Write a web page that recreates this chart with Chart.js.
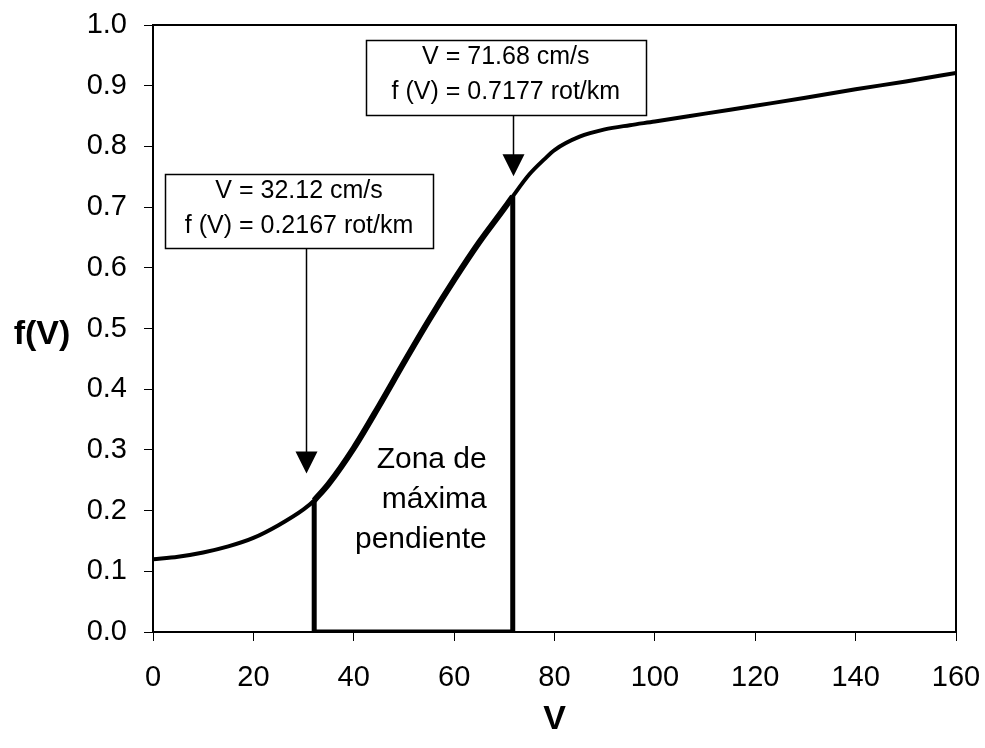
<!DOCTYPE html>
<html>
<head>
<meta charset="utf-8">
<script src="https://cdn.jsdelivr.net/npm/chart.js@4/dist/chart.umd.min.js"></script>
<style>
  html, body { margin: 0; padding: 0; background: #ffffff; }
  canvas { display: block; }
</style>
</head>
<body>
<canvas id="chart" width="985" height="748"></canvas>
<script>
// Velocity (cm/s) and response f(V) along the measured curve
const V_VALUES = [0, 5, 10, 15, 20, 25, 30, 32.12, 35, 40, 45, 50, 55, 60, 65, 70, 71.68,
                  75, 78, 80, 85, 90, 95, 100, 110, 120, 130, 140, 150, 160];
const F_VALUES = [0.120, 0.124, 0.131, 0.141, 0.155, 0.176, 0.202, 0.2167, 0.244, 0.303, 0.372,
                  0.444, 0.514, 0.580, 0.642, 0.698, 0.7177,
                  0.754, 0.779, 0.794, 0.816, 0.828, 0.835, 0.841, 0.854, 0.867, 0.880, 0.894, 0.907, 0.921];

// Limits of the steepest-slope zone
const V_LOW = 32.12,  F_LOW = 0.2167;
const V_HIGH = 71.68, F_HIGH = 0.7177;

const X_TICKS = [0, 20, 40, 60, 80, 100, 120, 140, 160];
const Y_TICKS = [0.0, 0.1, 0.2, 0.3, 0.4, 0.5, 0.6, 0.7, 0.8, 0.9, 1.0];

const X_TITLE = "V";
const Y_TITLE = "f(V)";
const CALLOUTS = [
  { v: V_LOW,  f: F_LOW,  lines: ["V = 32.12 cm/s", "f (V) = 0.2167 rot/km"] },
  { v: V_HIGH, f: F_HIGH, lines: ["V = 71.68 cm/s", "f (V) = 0.7177 rot/km"] }
];
const ZONE_LABEL = ["Zona de", "máxima", "pendiente"];

const FONT = "'Liberation Sans', Arial, Helvetica, sans-serif";

const curve = V_VALUES.map((v, i) => ({ x: v, y: F_VALUES[i] }));
const zoneCurve = curve.filter(p => p.x >= V_LOW && p.x <= V_HIGH);
const zoneFrame = [
  { x: V_LOW, y: F_LOW }, { x: V_LOW, y: 0 },
  { x: V_HIGH, y: 0 }, { x: V_HIGH, y: F_HIGH }
];

// Callout box placement: centre in V units, top edge in f units
const CALLOUT_BOX = [
  { centerV: 29.1, topF: 0.755, width: 268, height: 74, tipGap: 27 },
  { centerV: 70.3, topF: 0.975, width: 280, height: 75, tipGap: 20 }
];

const decorations = {
  id: 'decorations',
  afterDraw(chart) {
    const { ctx, chartArea: a, scales: { x, y } } = chart;
    ctx.save();

    // frame around the plot
    ctx.strokeStyle = '#000';
    ctx.lineWidth = 2;
    ctx.strokeRect(a.left, a.top, a.right - a.left, a.bottom - a.top);

    // callouts with arrows
    CALLOUTS.forEach((c, i) => {
      const b = CALLOUT_BOX[i];
      const cx = x.getPixelForValue(b.centerV);
      const top = Math.round(y.getPixelForValue(b.topF)) + 0.5;
      const left = Math.round(cx - b.width / 2) + 0.5;
      ctx.fillStyle = '#fff';
      ctx.fillRect(left, top, b.width, b.height);
      ctx.lineWidth = 1.5;
      ctx.strokeStyle = '#000';
      ctx.strokeRect(left, top, b.width, b.height);

      ctx.fillStyle = '#000';
      ctx.font = `25px ${FONT}`;
      ctx.textAlign = 'center';
      ctx.textBaseline = 'middle';
      ctx.fillText(c.lines[0], cx, top + 17);
      ctx.fillText(c.lines[1], cx, top + 52);

      const ax = Math.round(cx + 7) + 0.5;
      const tipY = y.getPixelForValue(c.f) - b.tipGap;
      const head = 22, half = 11;
      ctx.beginPath();
      ctx.moveTo(ax, top + b.height);
      ctx.lineTo(ax, tipY - head + 2);
      ctx.lineWidth = 1.5;
      ctx.stroke();
      ctx.beginPath();
      ctx.moveTo(ax - half, tipY - head);
      ctx.lineTo(ax + half, tipY - head);
      ctx.lineTo(ax, tipY);
      ctx.closePath();
      ctx.fill();
    });

    // zone label, right-aligned inside the zone
    ctx.fillStyle = '#000';
    ctx.font = `30px ${FONT}`;
    ctx.textAlign = 'right';
    ctx.textBaseline = 'alphabetic';
    const zx = x.getPixelForValue(V_HIGH) - 26;
    const zy = y.getPixelForValue(0.27);
    ZONE_LABEL.forEach((t, i) => ctx.fillText(t, zx, zy + i * 40));

    // axis titles
    ctx.font = `bold 34px ${FONT}`;
    ctx.textAlign = 'center';
    ctx.textBaseline = 'middle';
    ctx.fillText(Y_TITLE, 42, y.getPixelForValue(0.49));
    ctx.fillText(X_TITLE, (a.left + a.right) / 2, 720);

    ctx.restore();
  }
};

function noEdgePadding(s) {
  s.paddingLeft = 0; s.paddingRight = 0; s.paddingTop = 0; s.paddingBottom = 0;
}

new Chart(document.getElementById('chart'), {
  type: 'line',
  data: {
    datasets: [
      {
        data: curve,
        borderColor: '#000',
        borderWidth: 4,
        pointRadius: 0,
        cubicInterpolationMode: 'monotone',
        fill: false
      },
      {
        data: zoneCurve,
        borderColor: '#000',
        borderWidth: 6,
        pointRadius: 0,
        cubicInterpolationMode: 'monotone',
        fill: false
      },
      {
        data: zoneFrame,
        borderColor: '#000',
        borderWidth: 5,
        pointRadius: 0,
        tension: 0,
        borderJoinStyle: 'miter',
        fill: false
      }
    ]
  },
  options: {
    responsive: false,
    animation: false,
    devicePixelRatio: 1,
    layout: { padding: { top: 25, right: 29, bottom: 0, left: 0 } },
    plugins: { legend: { display: false }, tooltip: { enabled: false } },
    scales: {
      x: {
        type: 'linear',
        min: 0, max: 160,
        afterBuildTicks: s => { s.ticks = X_TICKS.map(v => ({ value: v })); },
        afterFit: s => { s.height = 116; noEdgePadding(s); },
        grid: { drawOnChartArea: false, drawTicks: true, tickLength: 9, color: '#000', lineWidth: 1 },
        border: { display: true, color: '#000', width: 2 },
        ticks: { color: '#000', padding: 20, maxRotation: 0, font: { family: FONT, size: 29 } }
      },
      y: {
        type: 'linear',
        min: 0, max: 1,
        afterBuildTicks: s => { s.ticks = Y_TICKS.map(v => ({ value: v })); },
        afterFit: s => { s.width = 153; noEdgePadding(s); },
        grid: { drawOnChartArea: false, drawTicks: true, tickLength: 9, color: '#000', lineWidth: 1 },
        border: { display: true, color: '#000', width: 2 },
        ticks: { color: '#000', padding: 17, font: { family: FONT, size: 29 }, callback: v => Number(v).toFixed(1) }
      }
    }
  },
  plugins: [decorations]
});
</script>
</body>
</html>
